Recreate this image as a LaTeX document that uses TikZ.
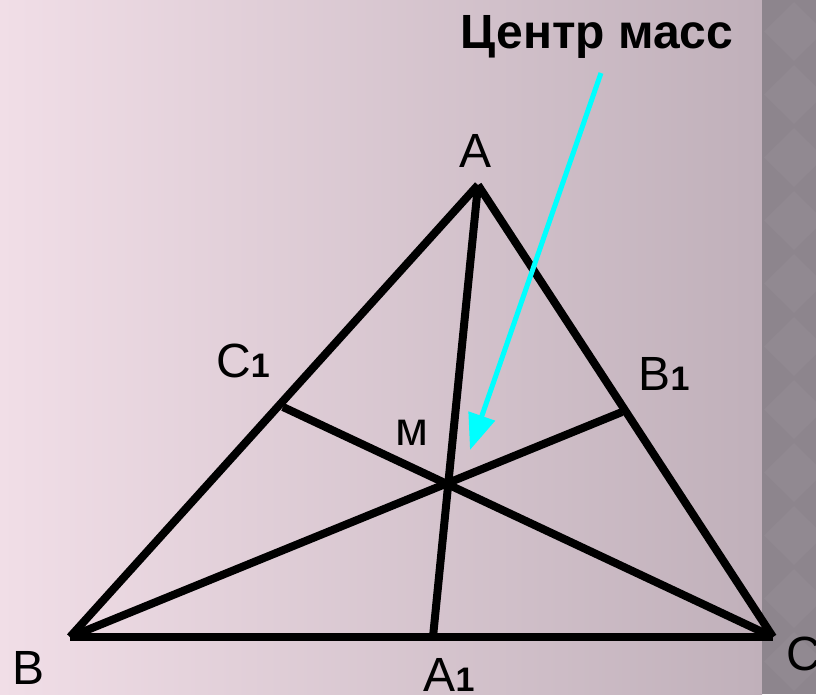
\documentclass[tikz,border=0pt]{standalone}
\usepackage{fontspec}
\setmainfont{Liberation Sans}
\usepackage{tikz}
\usetikzlibrary{arrows.meta}
\definecolor{bgleft}{HTML}{F1DEE7}
\definecolor{bgright}{HTML}{C0B0BA}
\definecolor{strip}{HTML}{8D858D}
\definecolor{stripfill}{HTML}{918991}
\definecolor{pointer}{HTML}{00FFFF}
\newcommand{\idx}[1]{{\bfseries\fontsize{34}{34}\selectfont #1}}
\tikzset{
  side/.style={line width=8pt, black, line cap=butt},
  vlabel/.style={anchor=base, font=\fontsize{48}{48}\selectfont, inner sep=0pt},
  title/.style={anchor=base, font=\bfseries\fontsize{48}{48}\selectfont, inner sep=0pt},
  arr/.style={-{Triangle[length=36pt, width=27pt]}, line width=5pt, pointer},
}

\begin{document}
\begin{tikzpicture}[x=1pt, y=-1pt]
\useasboundingbox (0,0) rectangle (816,694);
% background
\shade[left color=bgleft, right color=bgright] (0,0) rectangle (762,694);
\fill[strip] (762,0) rectangle (816,694);
\begin{scope}
\clip (762,0) rectangle (816,694);
\foreach \k in {-1,...,11} {
  \fill[stripfill] (794,{\k*63+2}) -- (824,{\k*63+31.5}) -- (794,{\k*63+61}) -- (764,{\k*63+31.5}) -- cycle;
}
\end{scope}
% vertices and points on the sides
\coordinate (A) at (478,185);
\coordinate (B) at (70,637);
\coordinate (C) at (773,637);
\coordinate (A1) at (433,637);
\coordinate (B1) at (622,412);
\coordinate (C1) at (283,407);
% triangle and medians
\draw[side] (A) -- (B);
\draw[side] (B) -- (C);
\draw[side] (C) -- (A);
\draw[side] (A) -- (A1);
\draw[side] (B) -- (B1);
\draw[side] (C) -- (C1);
% labels
\node[vlabel] (lA) at (476,167) {A};
\node[vlabel] (lB) at (29,684) {B};
\node[vlabel, anchor=base west] (lC) at (786,670) {C};
\node[vlabel] (lA1) at (449,691) {A\idx{1}};
\node[vlabel] (lB1) at (664,390) {B\idx{1}};
\node[vlabel] (lC1) at (243,377) {C\idx{1}};
\node[vlabel] (lM) at (412,445) {м};
\node[title] (ttl) at (597,48) {Центр масс};
\coordinate (tail) at (601,73);
\coordinate (tip) at (470,450);
\draw[arr] (tail) -- (tip);
\end{tikzpicture}
\end{document}
